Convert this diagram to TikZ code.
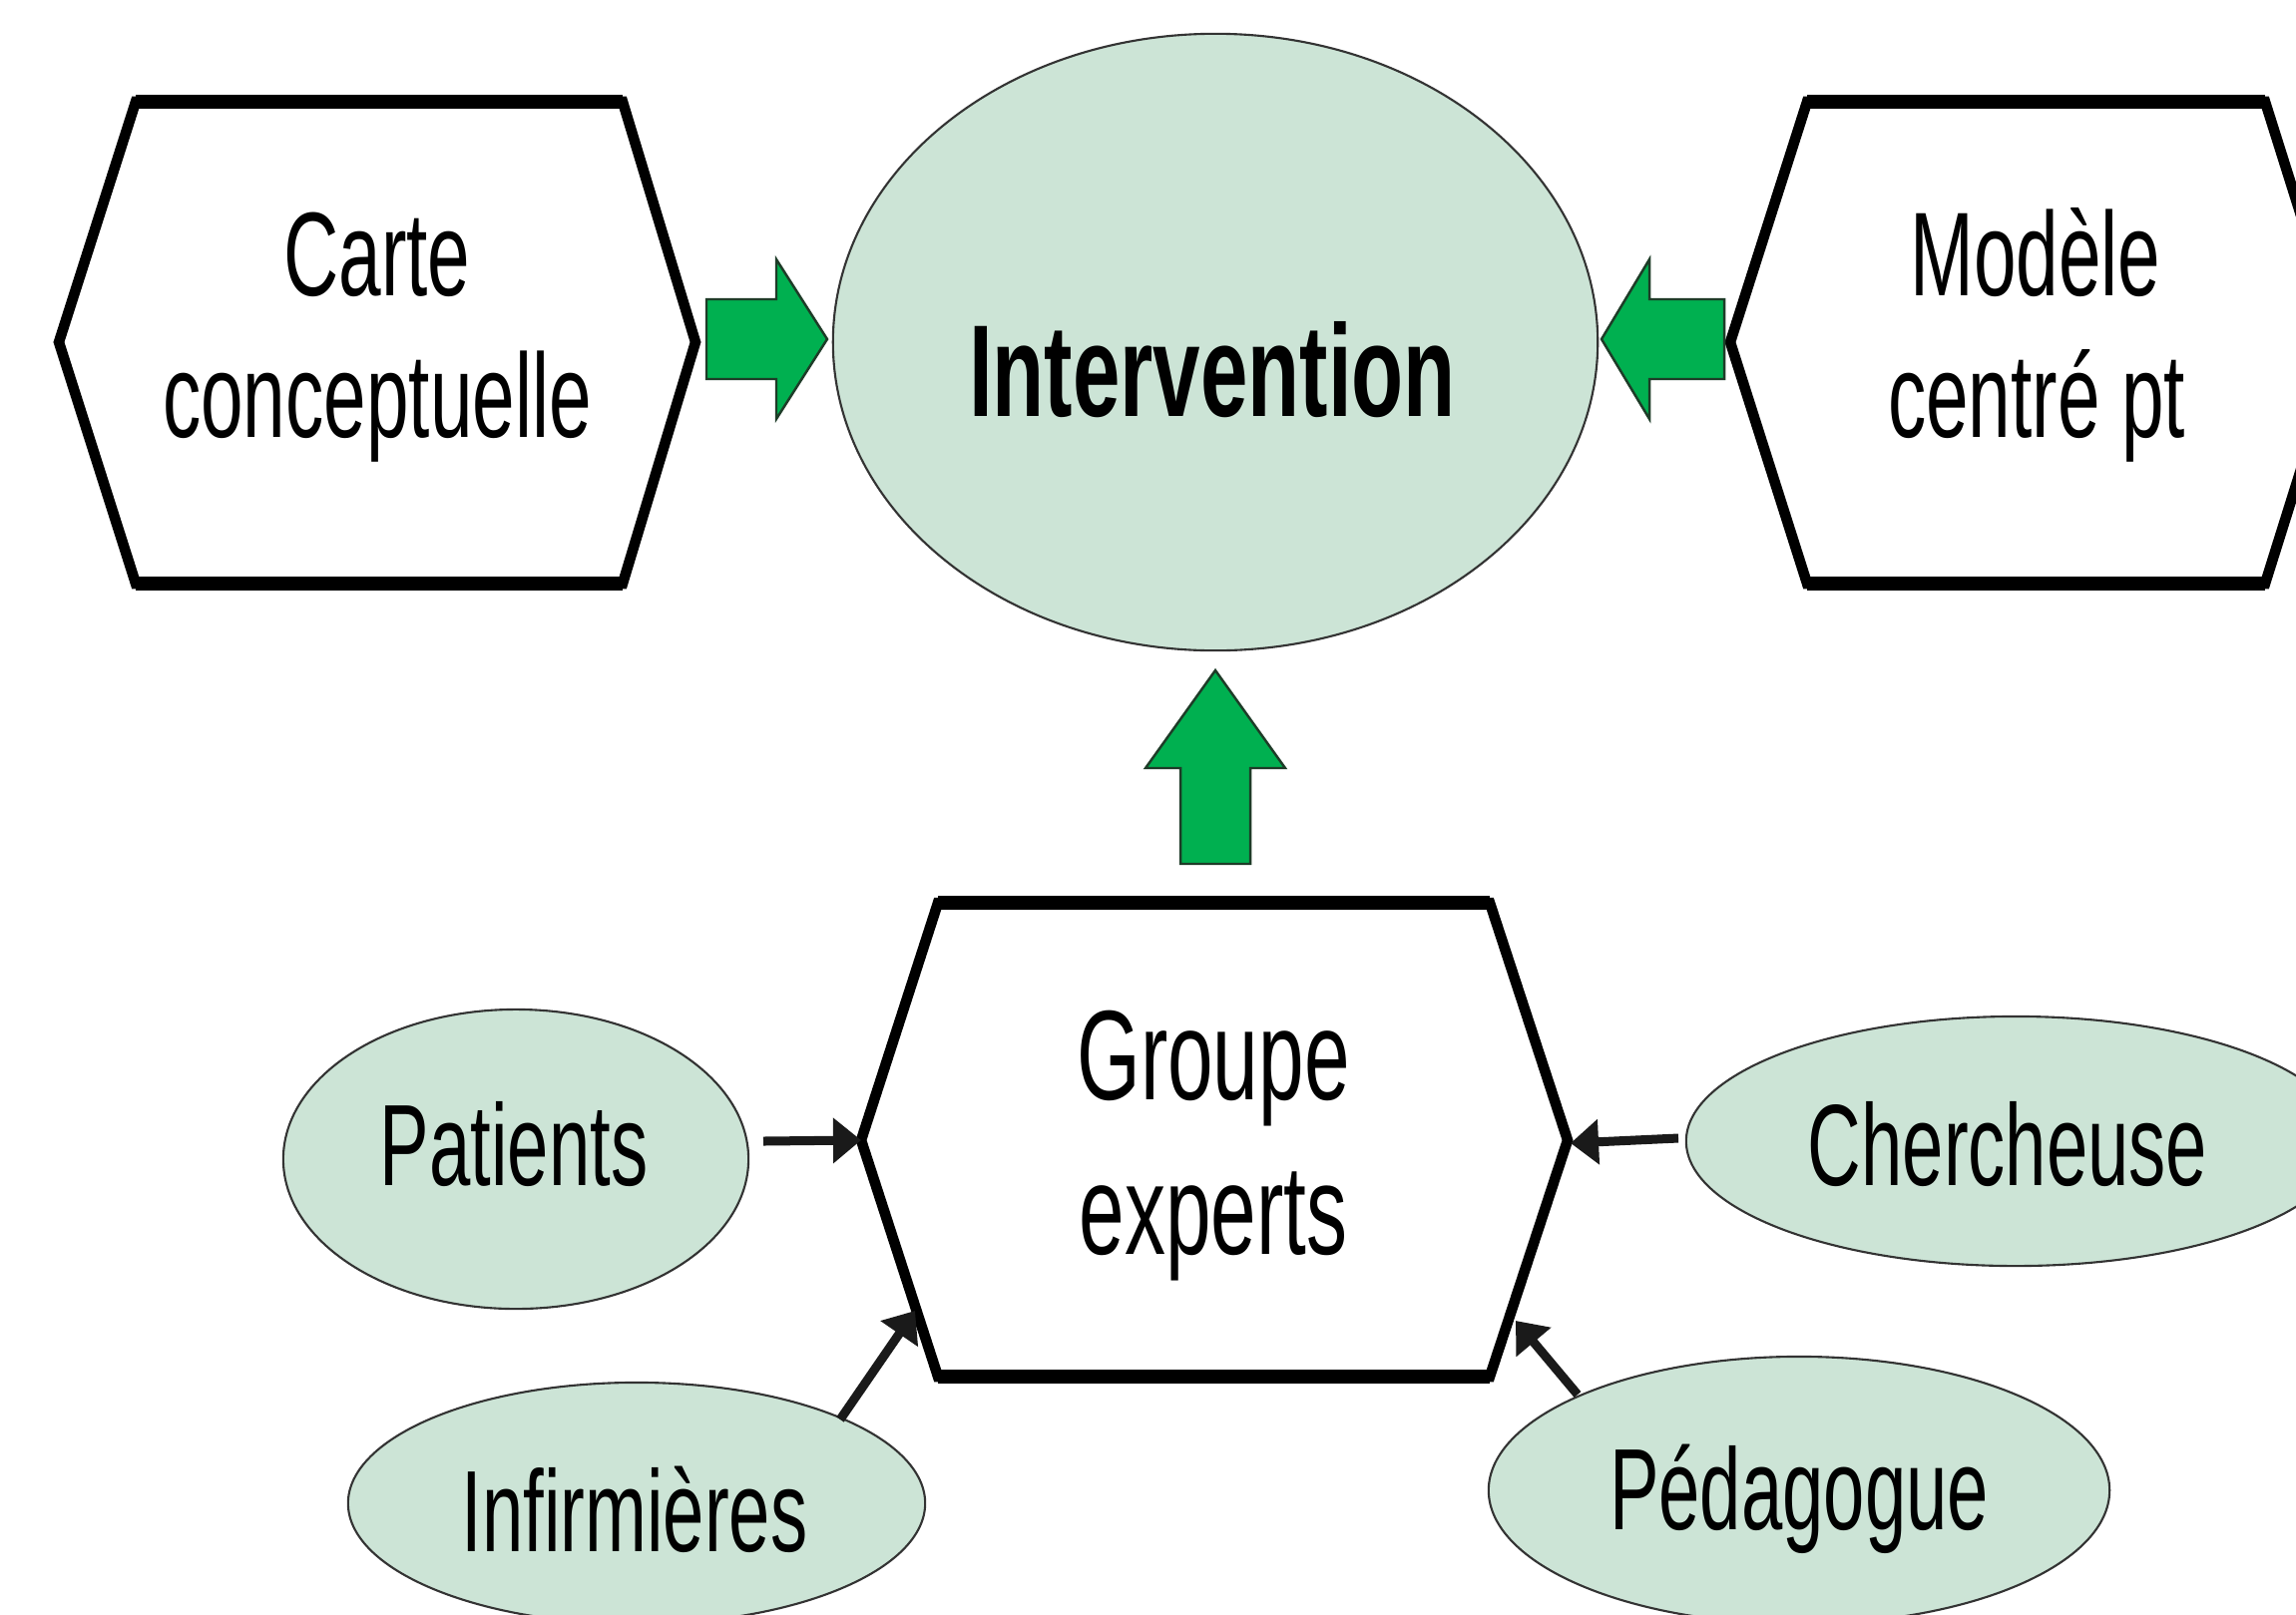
\documentclass[tikz,border=0pt]{standalone}
\usepackage{fontspec}
\usetikzlibrary{shapes.geometric,arrows.meta}
\newfontfamily\nfont[FakeStretch=0.64]{Liberation Sans}
\newfontfamily\nbfont[FakeStretch=0.65]{Liberation Sans}
\definecolor{mint}{RGB}{204,228,214}
\definecolor{ggreen}{RGB}{0,176,80}
\definecolor{gedge}{RGB}{30,60,40}
\definecolor{blk}{RGB}{26,26,26}
\begin{document}
\begin{tikzpicture}[x=0.01cm,y=-0.01cm,
  hexline/.style={draw=black,line width=0.105cm,line join=miter,fill=white},
  hexbar/.style={draw=black,line width=0.135cm,line cap=butt},
  bubble/.style={ellipse,draw=black!80,line width=0.6pt,fill=mint,inner sep=0pt},
  lbl/.style={anchor=base,inner sep=0pt,font=\nfont\fontsize{34pt}{40pt}\selectfont},
  glbl/.style={anchor=base,inner sep=0pt,font=\nfont\fontsize{36.4pt}{42pt}\selectfont},
  elbl/.style={anchor=base,inner sep=0pt,font=\nfont\fontsize{33pt}{40pt}\selectfont},
  garrow/.style={draw=gedge,line width=0.7pt,fill=ggreen,line join=miter},
  barrow/.style={draw=blk,line width=0.09cm,-{Triangle[length=0.28cm,width=0.44cm]}}]
\useasboundingbox (0,0) rectangle (2301,1618);
\clip (0,0) rectangle (2301,1618);
\fill[white] (0,0) rectangle (2301,1618);

% central ellipse
\node[bubble,minimum width=7.66cm,minimum height=6.18cm] (interv) at (1218,343) {};
\node[anchor=base,inner sep=0pt,font=\nbfont\bfseries\fontsize{37.3pt}{44pt}\selectfont] (intervT) at (1215,417) {Intervention};

% left hexagon
\coordinate (lW) at (59,343); \coordinate (lNW) at (136,102); \coordinate (lNE) at (624,102);
\coordinate (lE) at (697,343); \coordinate (lSE) at (624,585); \coordinate (lSW) at (136,585);
\draw[hexline] (lW) -- (lNW) -- (lNE) -- (lE) -- (lSE) -- (lSW) -- cycle;
\draw[hexbar] (lNW) -- (lNE); \draw[hexbar] (lSW) -- (lSE);
\node[lbl] (carte1) at (378,296) {Carte};
\node[lbl] (carte2) at (378,438) {conceptuelle};

% right hexagon
\coordinate (rW) at (1734,343); \coordinate (rNW) at (1811,102); \coordinate (rNE) at (2270,102);
\coordinate (rE) at (2346,343); \coordinate (rSE) at (2270,585); \coordinate (rSW) at (1811,585);
\draw[hexline] (rW) -- (rNW) -- (rNE) -- (rE) -- (rSE) -- (rSW) -- cycle;
\draw[hexbar] (rNW) -- (rNE); \draw[hexbar] (rSW) -- (rSE);
\node[lbl] (mod1) at (2040,296) {Modèle};
\node[lbl] (mod2) at (2041,438) {centré pt};

% bottom hexagon
\coordinate (gW) at (863,1143); \coordinate (gNW) at (940,905); \coordinate (gNE) at (1493,905);
\coordinate (gE) at (1571,1143); \coordinate (gSE) at (1493,1380); \coordinate (gSW) at (940,1380);
\draw[hexline] (gW) -- (gNW) -- (gNE) -- (gE) -- (gSE) -- (gSW) -- cycle;
\draw[hexbar] (gNW) -- (gNE); \draw[hexbar] (gSW) -- (gSE);
\node[glbl] (grp1) at (1216,1102) {Groupe};
\node[glbl] (grp2) at (1216,1257) {experts};

% green block arrows
\draw[garrow] (708,300) -- (778,300) -- (778,260) -- (829,340) -- (778,420) -- (778,380) -- (708,380) -- cycle;
\draw[garrow] (1728,300) -- (1653,300) -- (1653,260) -- (1605,340) -- (1653,420) -- (1653,380) -- (1728,380) -- cycle;
\draw[garrow] (1183,866) -- (1183,770) -- (1148,770) -- (1218,672) -- (1288,770) -- (1253,770) -- (1253,866) -- cycle;

% satellite ellipses
\node[bubble,minimum width=4.66cm,minimum height=3.00cm] (pat) at (517,1162) {};
\node[elbl] (patT) at (515,1188) {Patients};
\node[bubble,minimum width=5.78cm,minimum height=2.42cm] (inf) at (638,1507) {};
\node[elbl] (infT) at (636,1555) {Infirmières};
\node[bubble,minimum width=6.60cm,minimum height=2.50cm] (cher) at (2020,1144) {};
\node[elbl] (cherT) at (2012,1188) {Chercheuse};
\node[bubble,minimum width=6.22cm,minimum height=2.68cm] (ped) at (1803,1494) {};
\node[elbl] (pedT) at (1803,1533) {Pédagogue};

% black arrows
\coordinate (paS) at (765,1144);
\coordinate (chS) at (1682,1141); \coordinate (chE) at (1574,1146);
\coordinate (inS) at (842,1423); \coordinate (inE) at (917,1314);
\coordinate (peS) at (1581,1398); \coordinate (peE) at (1519,1324);
\draw[barrow] (paS) -- (gW);
\draw[barrow] (chS) -- (chE);
\draw[barrow] (inS) -- (inE);
\draw[barrow] (peS) -- (peE);
\end{tikzpicture}
\end{document}
